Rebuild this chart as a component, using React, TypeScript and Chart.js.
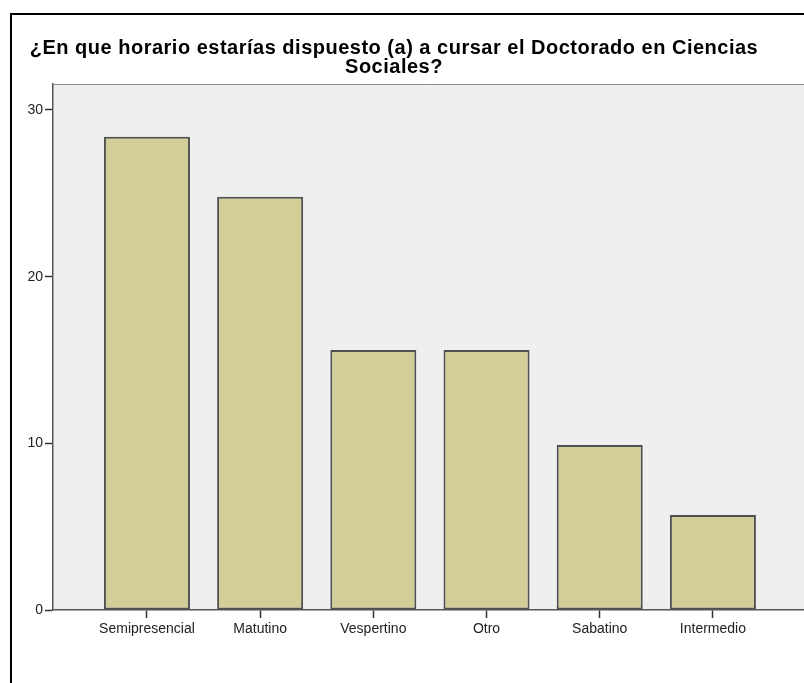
import React, { useEffect, useRef } from 'react';
import { Chart, registerables } from 'chart.js';

Chart.register(...registerables);

const categories = ['Semipresencial', 'Matutino', 'Vespertino', 'Otro', 'Sabatino', 'Intermedio'];
const percentages = [28.4, 24.8, 15.6, 15.6, 9.9, 5.7];
const yTickValues = [0, 10, 20, 30];
const titleLines = [
  '¿En que horario estarías dispuesto (a) a cursar el Doctorado en Ciencias',
  'Sociales?',
];

const FONT = "'Liberation Sans', Arial, sans-serif";

export default function App() {
  const ref = useRef<HTMLCanvasElement>(null);

  useEffect(() => {
    if (!ref.current) return;

    const decor = {
      id: 'decor',
      beforeDraw(chart: any) {
        const { ctx, chartArea: a } = chart;
        ctx.save();
        ctx.fillStyle = '#ffffff';
        ctx.fillRect(0, 0, chart.width, chart.height);
        ctx.fillStyle = '#efefef';
        ctx.fillRect(a.left, a.top, a.right - a.left, a.bottom - a.top);
        ctx.strokeStyle = '#8c8c8c';
        ctx.lineWidth = 1;
        ctx.beginPath();
        ctx.moveTo(a.left, a.top + 0.5);
        ctx.lineTo(a.right, a.top + 0.5);
        ctx.stroke();
        // outer frame
        ctx.fillStyle = '#000000';
        ctx.fillRect(10, 13, 2, chart.height);
        ctx.fillRect(10, 13, chart.width, 2);
        // title
        ctx.fillStyle = '#000000';
        ctx.font = `bold 20px ${FONT}`;
        if ('letterSpacing' in ctx) (ctx as any).letterSpacing = '0.5px';
        ctx.textAlign = 'center';
        ctx.textBaseline = 'alphabetic';
        titleLines.forEach((t, i) => ctx.fillText(t, 394, 54 + i * 19));
        ctx.restore();
      },
    };

    const chart = new Chart(ref.current, {
      type: 'bar',
      data: {
        datasets: [
          {
            data: percentages.map((v, i) => ({ x: i, y: v })),
            backgroundColor: '#d3ce97',
            borderColor: '#505050',
            borderWidth: 2,
            borderSkipped: false,
            barPercentage: 0.76,
            categoryPercentage: 1,
          },
        ],
      },
      options: {
        animation: false,
        responsive: false,
        devicePixelRatio: 1,
        layout: { padding: { top: 84, left: 0, right: 4, bottom: 33 } },
        plugins: {
          legend: { display: false },
          title: { display: false },
          tooltip: { enabled: false },
        },
        scales: {
          x: {
            type: 'linear',
            bounds: 'data',
            min: -0.83,
            max: 5.84,
            offset: false,
            afterBuildTicks: (axis: any) => {
              axis.ticks = categories.map((_, i) => ({ value: i }));
            },
            afterFit: (scale: any) => {
              scale.height = 40;
            },
            grid: {
              offset: false,
              drawOnChartArea: false,
              drawTicks: true,
              tickLength: 8,
              tickColor: '#333333',
              tickWidth: 1.5,
            },
            border: { display: true, color: '#555555', width: 1.5 },
            ticks: {
              autoSkip: false,
              maxRotation: 0,
              padding: 3,
              color: '#222222',
              font: { family: FONT, size: 14 },
              callback: (value: any) => categories[Math.round(Number(value))] ?? '',
            },
          },
          y: {
            type: 'linear',
            bounds: 'data',
            min: 0,
            max: 31.56,
            afterBuildTicks: (axis: any) => {
              axis.ticks = yTickValues.map((v) => ({ value: v }));
            },
            afterFit: (scale: any) => {
              scale.width = 53;
            },
            grid: {
              drawOnChartArea: false,
              drawTicks: true,
              tickLength: 8,
              tickColor: '#333333',
              tickWidth: 1.5,
            },
            border: { display: true, color: '#555555', width: 1.5 },
            ticks: {
              padding: 2,
              color: '#222222',
              font: { family: FONT, size: 14 },
              callback: (value: any) => String(value),
            },
          },
        },
      },
      plugins: [decor],
    });

    return () => chart.destroy();
  }, []);

  return (
    <div
      style={{
        position: 'fixed',
        left: 0,
        top: 0,
        width: 804,
        height: 683,
        overflow: 'hidden',
        background: '#ffffff',
      }}
    >
      <canvas ref={ref} width={812} height={683} style={{ width: 812, height: 683, display: 'block' }} />
    </div>
  );
}
